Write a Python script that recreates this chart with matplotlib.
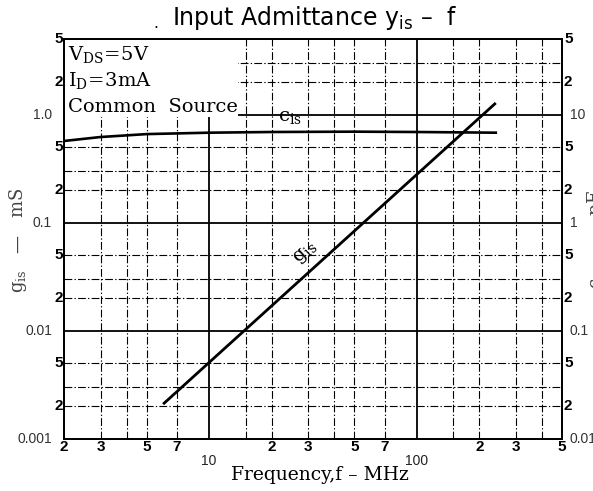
import matplotlib
matplotlib.use("Agg")
import matplotlib.pyplot as plt
import matplotlib.transforms as mtransforms
from matplotlib.patches import Rectangle

# ---------------- data ----------------
gis_freq = [6.0, 240.0]            # MHz
gis_vals = [0.0021, 1.28]          # mS

cis_freq = [2, 3, 5, 10, 20, 50, 100, 240]        # MHz
cis_vals = [5.7, 6.2, 6.6, 6.8, 6.9, 6.95, 6.9, 6.8]  # pF

x_grid = [3, 4, 5, 7, 10, 15, 20, 30, 40, 50, 70, 100, 150, 200, 300, 400]
x_decades = [10, 100]
y_grid = [0.002, 0.003, 0.005, 0.01, 0.02, 0.03, 0.05, 0.1, 0.2, 0.3, 0.5, 1, 2, 3]
y_decades = [0.01, 0.1, 1]

x_ticks = [2, 3, 5, 7, 10, 20, 30, 50, 70, 100, 200, 300, 500]
x_tick_labels = ['2', '3', '5', '7', '10', '2', '3', '5', '7', '100', '2', '3', '5']

yl_ticks = [0.001, 0.002, 0.005, 0.01, 0.02, 0.05, 0.1, 0.2, 0.5, 1.0, 2, 5]
yl_labels = ['0.001', '2', '5', '0.01', '2', '5', '0.1', '2', '5', '1.0', '2', '5']

yr_ticks = [0.01, 0.02, 0.05, 0.1, 0.2, 0.5, 1, 2, 5, 10, 20, 50]
yr_labels = ['0.01', '2', '5', '0.1', '2', '5', '1', '2', '5', '10', '2', '5']

# ---------------- figure ----------------
fig = plt.figure(figsize=(5.93, 4.91), dpi=100)
ax = fig.add_axes([0.1079, 0.1059, 0.8398, 0.8147])
ax.set_xscale('log')
ax.set_yscale('log')
ax.set_xlim(2, 500)
ax.set_ylim(0.001, 5)
ax.set_xticks([]); ax.set_yticks([])
ax.minorticks_off()
ax.tick_params(which='both', length=0, labelbottom=False, labelleft=False)

axr = ax.twinx()
axr.set_yscale('log')
axr.set_ylim(0.01, 50)
axr.set_yticks([]); axr.minorticks_off()
axr.tick_params(which='both', length=0, labelright=False)

for a in (ax, axr):
    for s in a.spines.values():
        s.set_linewidth(1.3)
        s.set_color('black')

dashdot = (0, (7, 2, 1.2, 2))
for xv in x_grid:
    if xv in x_decades:
        ax.axvline(xv, color='black', lw=1.3, zorder=1)
    else:
        ax.axvline(xv, color='black', lw=0.8, ls=dashdot, zorder=1)
for yv in y_grid:
    if yv in y_decades:
        ax.axhline(yv, color='black', lw=1.3, zorder=1)
    else:
        ax.axhline(yv, color='black', lw=0.8, ls=dashdot, zorder=1)

# white box behind the conditions text
ax.add_patch(Rectangle((0.0, 0.805), 0.349, 0.195, transform=ax.transAxes,
                       facecolor='white', edgecolor='none', zorder=2))

# curves
ax.plot(gis_freq, gis_vals, color='black', lw=2.0, solid_capstyle='butt', zorder=4)
axr.plot(cis_freq, cis_vals, color='black', lw=1.9, zorder=4)

serif = 'DejaVu Serif'
# conditions text
tkw = dict(transform=ax.transAxes, family=serif, fontsize=14, ha='left',
           va='baseline', math_fontfamily='dejavuserif', zorder=5)
ax.text(0.008, 0.948, r'$\mathrm{V_{DS}\!=\!5V}$', **tkw)
ax.text(0.008, 0.882, r'$\mathrm{I_{D}\!=\!3mA}$', **tkw)
ax.text(0.008, 0.818, 'Common  Source', **tkw)

# curve labels
ax.text(24.5, 0.95, r'$\mathrm{c_{is}}$', family=serif, fontsize=14,
        math_fontfamily='dejavuserif', ha='center', va='center', zorder=5)
ax.text(29.0, 0.053, r'$\mathrm{g_{is}}$', family=serif, fontsize=14,
        math_fontfamily='dejavuserif', ha='center', va='center',
        rotation=42, rotation_mode='anchor', zorder=5)

# ---- tick labels (manual, like the datasheet) ----
bx = mtransforms.blended_transform_factory(ax.transData, ax.transAxes)
for xv, lab in zip(x_ticks, x_tick_labels):
    if lab in ('10', '100'):
        off = mtransforms.offset_copy(bx, fig=fig, x=0, y=-15, units='dots')
        ax.text(xv, 0, lab, transform=off, ha='center', va='top',
                family='Liberation Sans', fontsize=10, color='#222')
    else:
        off = mtransforms.offset_copy(bx, fig=fig, x=0, y=-1, units='dots')
        ax.text(xv, 0, lab, transform=off, ha='center', va='top',
                family='Liberation Sans', fontsize=11, fontweight='bold')

by = mtransforms.blended_transform_factory(ax.transAxes, ax.transData)
for yv, lab in zip(yl_ticks, yl_labels):
    if '.' in lab:
        off = mtransforms.offset_copy(by, fig=fig, x=-12, y=0, units='dots')
        ax.text(0, yv, lab, transform=off, ha='right', va='center',
                family='Liberation Sans', fontsize=10, color='#333')
    else:
        off = mtransforms.offset_copy(by, fig=fig, x=-1, y=0, units='dots')
        ax.text(0, yv, lab, transform=off, ha='right', va='center',
                family='Liberation Sans', fontsize=11, fontweight='bold')

byr = mtransforms.blended_transform_factory(axr.transAxes, axr.transData)
for yv, lab in zip(yr_ticks, yr_labels):
    if lab in ('0.01', '0.1', '1', '10'):
        off = mtransforms.offset_copy(byr, fig=fig, x=8, y=0, units='dots')
        axr.text(1, yv, lab, transform=off, ha='left', va='center',
                 family='Liberation Sans', fontsize=10, color='#333')
    else:
        off = mtransforms.offset_copy(byr, fig=fig, x=2, y=0, units='dots')
        axr.text(1, yv, lab, transform=off, ha='left', va='center',
                 family='Liberation Sans', fontsize=11, fontweight='bold')

# axis titles
fig.text(320 / 593, 1 - 475 / 491, 'Frequency,f \u2013 MHz', family=serif,
         fontsize=13.5, ha='center', va='center')
fig.text(18 / 593, 1 - 240 / 491, r'$\mathrm{g_{is}}$' + '   \u2014   mS',
         family=serif, fontsize=13, ha='center', va='center', rotation=90,
         color='#444', math_fontfamily='dejavuserif')
fig.text(596 / 593, 1 - 240 / 491, r'$\mathrm{c_{is}}$' + '   \u2014   pF',
         family=serif, fontsize=13, ha='center', va='center', rotation=90,
         color='#444', math_fontfamily='dejavuserif')

# title
fig.text(315 / 593, 1 - 18 / 491,
         r'Input Admittance y$_{\mathregular{is}}$' + ' \u2013  f',
         family='DejaVu Sans', fontsize=17, ha='center', va='center',
         math_fontfamily='dejavusans')
fig.text(156 / 593, 1 - 24 / 491, '.', family='DejaVu Sans', fontsize=11,
         ha='center', va='center')

fig.savefig('out.png', dpi=100)
